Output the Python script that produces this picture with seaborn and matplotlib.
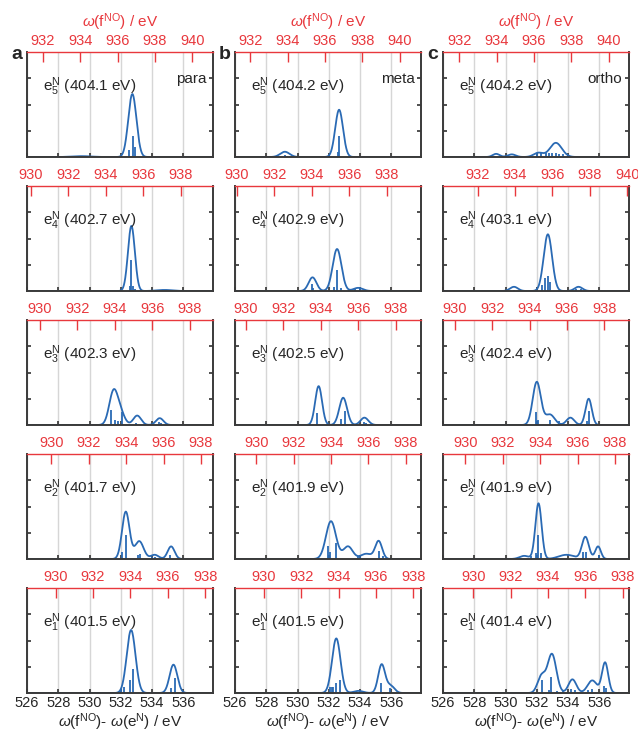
import numpy as np
import pandas as pd
import matplotlib
matplotlib.use("Agg")
import matplotlib.pyplot as plt
import seaborn as sns

# ------------------- Data -------------------

isomers = ["para", "meta", "ortho"]
panel_letters = ["a", "b", "c"]
levels = [5, 4, 3, 2, 1]

# e^N energies (eV), top row first
para_energy = [404.1, 402.7, 402.3, 401.7, 401.5]
meta_energy = [404.2, 402.9, 402.5, 401.9, 401.5]
ortho_energy = [404.2, 403.1, 402.4, 401.9, 401.4]

bottom_ticks = [526, 528, 530, 532, 534, 536]
top_ticks = [930, 932, 934, 936, 938, 940]

# left end of the red omega(f^NO) axis, row x column
top_axis_start = [[931.15, 931.19, 931.13],
                  [929.78, 929.89, 930.15],
                  [929.30, 929.41, 929.37],
                  [928.69, 928.86, 928.80],
                  [928.47, 928.46, 928.38]]

# broadened bands: (centre eV, height, width eV)
para_e5_peaks = [(532.74, 0.60, 0.26), (529.5, 0.008, 0.6)]
para_e4_peaks = [(532.68, 0.62, 0.22), (534.8, 0.01, 0.5)]
para_e3_peaks = [(531.52, 0.30, 0.27), (531.95, 0.12, 0.28), (533.05, 0.09, 0.25), (534.49, 0.065, 0.24)]
para_e2_peaks = [(532.32, 0.45, 0.24), (533.18, 0.17, 0.28), (534.17, 0.04, 0.25), (535.22, 0.12, 0.22)]
para_e1_peaks = [(532.66, 0.60, 0.28), (535.37, 0.27, 0.25)]

meta_e5_peaks = [(532.66, 0.45, 0.25), (529.19, 0.05, 0.3)]
meta_e4_peaks = [(532.53, 0.40, 0.28), (530.96, 0.13, 0.25), (533.88, 0.03, 0.3)]
meta_e3_peaks = [(531.35, 0.37, 0.22), (532.92, 0.26, 0.25), (534.28, 0.07, 0.25)]
meta_e2_peaks = [(532.14, 0.36, 0.32), (533.23, 0.12, 0.3), (534.4, 0.05, 0.35), (535.19, 0.17, 0.22)]
meta_e1_peaks = [(532.48, 0.52, 0.27), (533.9, 0.02, 0.3), (535.38, 0.27, 0.22), (535.95, 0.07, 0.25)]

ortho_e5_peaks = [(529.4, 0.03, 0.22), (530.4, 0.025, 0.25), (532.1, 0.04, 0.3), (533.22, 0.135, 0.38)]
ortho_e4_peaks = [(532.71, 0.54, 0.27), (530.54, 0.04, 0.25), (534.67, 0.04, 0.25)]
ortho_e3_peaks = [(532.0, 0.41, 0.26), (532.84, 0.10, 0.3), (534.15, 0.07, 0.25), (535.32, 0.25, 0.2)]
ortho_e2_peaks = [(531.2, 0.03, 0.3), (532.11, 0.53, 0.2), (533.9, 0.04, 0.5), (535.11, 0.21, 0.22), (535.92, 0.12, 0.18)]
ortho_e1_peaks = [(532.3, 0.16, 0.25), (532.97, 0.37, 0.28), (534.28, 0.13, 0.25), (535.55, 0.12, 0.3), (536.37, 0.29, 0.2)]

# stick spectra: (position eV, intensity)
para_e5_sticks = [(532.54, 0.07), (532.77, 0.2), (532.9, 0.1)]
para_e4_sticks = [(532.6, 0.05), (532.68, 0.3), (532.75, 0.05), (532.9, 0.02)]
para_e3_sticks = [(531.4, 0.14), (531.6, 0.05), (531.8, 0.04), (532.05, 0.12), (533.0, 0.02), (534.45, 0.03), (534.6, 0.02)]
para_e2_sticks = [(532.05, 0.07), (532.32, 0.23), (533.1, 0.04), (533.2, 0.05), (534.0, 0.02), (534.2, 0.02), (535.15, 0.04)]
para_e1_sticks = [(532.0, 0.04), (532.22, 0.06), (532.6, 0.12), (532.81, 0.23), (535.2, 0.05), (535.48, 0.14)]

meta_e5_sticks = [(529.2, 0.015), (529.35, 0.01), (532.62, 0.05), (532.68, 0.2)]
meta_e4_sticks = [(530.9, 0.07), (531.0, 0.03), (532.35, 0.04), (532.55, 0.2), (532.8, 0.03), (533.3, 0.02), (533.7, 0.02), (534.0, 0.015)]
meta_e3_sticks = [(531.25, 0.11), (532.8, 0.06), (533.05, 0.13), (534.25, 0.03), (534.4, 0.02)]
meta_e2_sticks = [(531.95, 0.12), (532.05, 0.07), (532.45, 0.15), (533.85, 0.03), (534.0, 0.02), (535.2, 0.08), (535.45, 0.03)]
meta_e1_sticks = [(532.1, 0.06), (532.2, 0.06), (532.3, 0.06), (532.45, 0.1), (532.7, 0.12), (533.8, 0.01), (535.35, 0.1), (535.9, 0.05)]

ortho_e5_sticks = [(529.3, 0.01), (532.0, 0.03), (532.3, 0.04), (532.6, 0.04), (532.8, 0.035), (533.0, 0.04), (533.2, 0.035), (533.45, 0.03), (533.65, 0.025)]
ortho_e4_sticks = [(530.55, 0.01), (532.35, 0.06), (532.55, 0.12), (532.7, 0.14), (532.85, 0.09), (534.5, 0.02), (534.8, 0.015)]
ortho_e3_sticks = [(531.3, 0.01), (531.95, 0.12), (532.1, 0.05), (532.85, 0.05), (533.4, 0.04), (535.2, 0.04), (535.32, 0.13)]
ortho_e2_sticks = [(531.65, 0.03), (531.95, 0.06), (532.1, 0.23), (532.25, 0.06), (534.95, 0.07), (535.15, 0.07), (535.95, 0.04)]
ortho_e1_sticks = [(532.35, 0.12), (532.75, 0.03), (532.9, 0.15), (533.3, 0.02), (533.7, 0.02), (534.2, 0.04), (534.45, 0.03),
                   (535.3, 0.03), (535.55, 0.04), (536.3, 0.07), (536.4, 0.05)]

energies = {"para": para_energy, "meta": meta_energy, "ortho": ortho_energy}
peaks = {
    "para": [para_e5_peaks, para_e4_peaks, para_e3_peaks, para_e2_peaks, para_e1_peaks],
    "meta": [meta_e5_peaks, meta_e4_peaks, meta_e3_peaks, meta_e2_peaks, meta_e1_peaks],
    "ortho": [ortho_e5_peaks, ortho_e4_peaks, ortho_e3_peaks, ortho_e2_peaks, ortho_e1_peaks],
}
sticks = {
    "para": [para_e5_sticks, para_e4_sticks, para_e3_sticks, para_e2_sticks, para_e1_sticks],
    "meta": [meta_e5_sticks, meta_e4_sticks, meta_e3_sticks, meta_e2_sticks, meta_e1_sticks],
    "ortho": [ortho_e5_sticks, ortho_e4_sticks, ortho_e3_sticks, ortho_e2_sticks, ortho_e1_sticks],
}

# ------------------- Style -------------------

sns.set_theme(style="white")
plt.rcParams["font.family"] = ["Liberation Sans", "DejaVu Sans"]
plt.rcParams["mathtext.fontset"] = "custom"
plt.rcParams["mathtext.rm"] = "Liberation Sans"
plt.rcParams["mathtext.it"] = "Liberation Sans:italic"
plt.rcParams["mathtext.bf"] = "Liberation Sans:bold"

BLUE = "#2a6ab4"
RED = "#e8383d"
SPINE = "#3a3a3a"
X_LO, X_HI = 526, 537.9
TOP_SPAN = 9.95

fig = plt.figure(figsize=(6.38, 7.34), dpi=100)
W, H = 638, 734
col_left = [27, 235, 443]
row_top = [52, 186, 320, 454, 588]
pw, ph = 186, 105

grid = np.linspace(X_LO, X_HI, 800)

for c, iso in enumerate(isomers):
    for r, lvl in enumerate(levels):
        ax = fig.add_axes([col_left[c] / W, 1 - (row_top[r] + ph) / H, pw / W, ph / H])

        # envelope = sum of the bands
        env = np.zeros_like(grid)
        for cen, hgt, wid in peaks[iso][r]:
            env += hgt * np.exp(-(grid - cen) ** 2 / (2 * wid ** 2))
        df = pd.DataFrame({"x": grid, "y": env})
        sns.lineplot(data=df, x="x", y="y", ax=ax, color=BLUE, lw=1.3)

        st = sticks[iso][r]
        ax.vlines([p for p, _ in st], 0, [h for _, h in st], color=BLUE, lw=1.3)

        ax.set_xticks(bottom_ticks)
        ax.set_yticks([0.25, 0.5, 0.75])
        ax.set_xlim(X_LO, X_HI)
        ax.set_ylim(0, 1)
        ax.grid(axis="x", color="#d6d6d6", lw=1)
        ax.tick_params(axis="y", direction="in", left=True, right=True, length=3,
                       color=SPINE, labelleft=False)
        ax.tick_params(axis="x", direction="in", bottom=True, length=3, color=SPINE,
                       labelbottom=(r == 4), labelsize=10.5, pad=2)
        ax.set_ylabel("")
        for side in ["left", "right", "bottom"]:
            ax.spines[side].set_color(SPINE)
            ax.spines[side].set_linewidth(1.4)
        ax.spines["top"].set_visible(False)
        if r == 4:
            ax.set_xlabel(r"$\omega$(f$^{\rm NO}$)- $\omega$(e$^{\rm N}$) / eV", fontsize=11, labelpad=1)
        else:
            ax.set_xlabel("")

        ax.text(0.085, 0.67, r"e$_{\rm %d}^{\rm N}$ (%.1f eV)" % (lvl, energies[iso][r]),
                transform=ax.transAxes, fontsize=11, ha="left", va="center")

        # red omega(f^NO) axis on top
        ax2 = ax.twiny()
        lo = top_axis_start[r][c]
        ax2.set_xticks(top_ticks)
        ax2.set_xlim(lo, lo + TOP_SPAN)
        ax2.tick_params(axis="x", direction="in", length=7, width=1, colors=RED,
                        labelsize=10.5, pad=3)
        for side in ["left", "right", "bottom"]:
            ax2.spines[side].set_visible(False)
        ax2.spines["top"].set_color(RED)
        ax2.spines["top"].set_linewidth(1.0)

        if r == 0:
            ax2.set_xlabel(r"$\omega$(f$^{\rm NO}$) / eV", color=RED, fontsize=11, labelpad=5)
            ax.text(0.965, 0.74, iso, transform=ax.transAxes, fontsize=11,
                    ha="right", va="center")
            fig.text((col_left[c] - 10) / W, 1 - 59 / H, panel_letters[c],
                     fontsize=14, fontweight="bold", ha="center", va="baseline")

fig.savefig("out.png", dpi=100)
